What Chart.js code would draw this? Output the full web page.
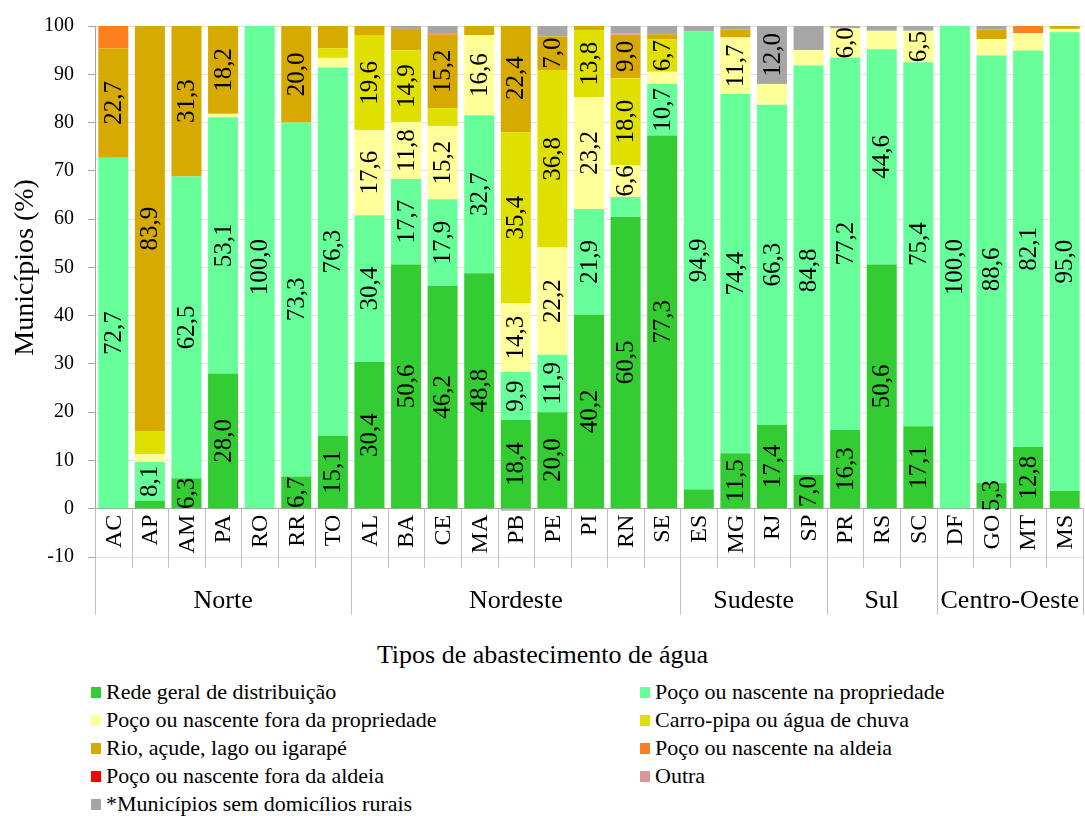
<!DOCTYPE html>
<html lang="pt">
<head>
<meta charset="utf-8">
<title>Tipos de abastecimento de água</title>
<script src="https://cdn.jsdelivr.net/npm/chart.js@4.4.1/dist/chart.umd.min.js"></script>
<style>
  body { margin: 0; background: #fff; font-family: 'Liberation Serif', 'Times New Roman', serif; }
  #wrap { position: relative; width: 1085px; height: 816px; }
  #chart { position: absolute; left: 0; top: 0; }
  #xTitle { position: absolute; left: 0; width: 1085px; top: 640px; text-align: center; font-size: 26px; color: #000; }
  #legend { position: absolute; left: 91px; top: 678px; display: grid; grid-template-columns: 549px 440px; grid-auto-rows: 28px; font-size: 22px; color: #000; }
  .item { display: flex; align-items: center; white-space: nowrap; }
  .box { display: inline-block; width: 10px; height: 11px; margin-right: 5px; }
</style>
</head>
<body>
<div id="wrap">
  <canvas id="chart" width="1085" height="632"></canvas>
  <div id="xTitle">Tipos de abastecimento de água</div>
  <div id="legend"></div>
</div>
<script>
document.addEventListener('DOMContentLoaded', function () {

    // estados (ordem do eixo) e regiões
    const states = ['AC', 'AP', 'AM', 'PA', 'RO', 'RR', 'TO',
        'AL', 'BA', 'CE', 'MA', 'PB', 'PE', 'PI', 'RN', 'SE',
        'ES', 'MG', 'RJ', 'SP',
        'PR', 'RS', 'SC',
        'DF', 'GO', 'MT', 'MS'];
    const regionNames = ['Norte', 'Nordeste', 'Sudeste', 'Sul', 'Centro-Oeste'];
    const regionSizes = [7, 9, 4, 3, 4];

    // percentuais de municípios por tipo
    const redeGeral = [0, 1.6, 6.3, 28.0, 0, 6.7, 15.1, 30.4, 50.6, 46.2, 48.8, 18.4, 20.0, 40.2, 60.5, 77.3, 4.0, 11.5, 17.4, 7.0, 16.3, 50.6, 17.1, 0, 5.3, 12.8, 3.7];
    const pocoPropriedade = [72.7, 8.1, 62.5, 53.1, 100.0, 73.3, 76.3, 30.4, 17.7, 17.9, 32.7, 9.9, 11.9, 21.9, 4.1, 10.7, 94.9, 74.4, 66.3, 84.8, 77.2, 44.6, 75.4, 100.0, 88.6, 82.1, 95.0];
    const pocoForaPropriedade = [0, 1.6, 0, 0.7, 0, 0, 2.0, 17.6, 11.8, 15.2, 16.6, 14.3, 22.2, 23.2, 6.6, 2.5, 0, 11.7, 4.3, 3.2, 6.0, 3.8, 6.5, 0, 3.4, 3.6, 0.7];
    const carroPipa = [0, 4.8, 0, 0, 0, 0, 2.0, 19.6, 14.9, 3.7, 0, 35.4, 36.8, 13.8, 18.0, 6.7, 0, 0, 0, 0, 0, 0, 0, 0, 0, 0, 0];
    const rioAcude = [22.7, 83.9, 31.3, 18.2, 0, 20.0, 4.6, 2.0, 4.4, 15.2, 1.9, 22.4, 7.0, 0.9, 9.0, 1.1, 0, 1.7, 0, 0, 0, 0, 0, 0, 2.0, 0, 0.6];
    const pocoNaAldeia = [4.6, 0, 0, 0, 0, 0, 0, 0, 0, 0.3, 0, 0, 0, 0, 0, 0, 0, 0, 0, 0, 0, 0, 0, 0, 0, 1.5, 0];
    const pocoForaAldeia = [0, 0, 0, 0, 0, 0, 0, 0, 0, 0, 0, 0, 0, 0, 0, 0, 0, 0, 0, 0, 0, 0, 0, 0, 0, 0, 0];
    const outra = [0, 0, 0, 0, 0, 0, 0, 0, 0, 0, 0, 0, 0, 0, 0.3, 0, 0, 0, 0, 0, 0, 0, 0, 0, 0, 0, 0];
    const semRurais = [0, 0, 0, 0, 0, 0, 0, 0, 0.6, 1.5, 0, -0.4, 2.1, 0, 1.5, 1.7, 1.1, 0.7, 12.0, 5.0, 0.5, 1.0, 1.0, 0, 0.7, 0, 0];

    const serif = "'Liberation Serif', 'Times New Roman', serif";
    const labelMin = 5.3; // valores menores ficam sem rótulo

    function ds(label, data, color) {
        return {
            label: label,
            data: data,
            backgroundColor: color,
            borderWidth: 0,
            categoryPercentage: 1.0,
            barPercentage: 0.82
        };
    }

    // rótulos de dados, eixo de categorias agrupado e título do eixo y
    const overlay = {
        id: 'overlay',
        afterDatasetsDraw(chart) {
            const ctx = chart.ctx;
            ctx.save();
            ctx.fillStyle = '#000';
            ctx.font = '25px ' + serif;
            ctx.textAlign = 'center';
            ctx.textBaseline = 'middle';
            chart.data.datasets.forEach((d, di) => {
                const meta = chart.getDatasetMeta(di);
                meta.data.forEach((bar, i) => {
                    const v = d.data[i];
                    if (v < labelMin) return;
                    const cy = (bar.y + bar.base) / 2;
                    ctx.save();
                    ctx.translate(bar.x + 1, cy);
                    ctx.rotate(-Math.PI / 2);
                    ctx.fillText(v.toFixed(1).replace('.', ','), 0, 0);
                    ctx.restore();
                });
            });
            ctx.restore();
        },
        afterDraw(chart) {
            const ctx = chart.ctx;
            const xs = chart.scales.x;
            const ys = chart.scales.y;
            const y0 = ys.getPixelForValue(0);
            const half = (xs.getPixelForValue(1) - xs.getPixelForValue(0)) / 2;

            ctx.save();
            ctx.strokeStyle = '#bfbfbf';
            ctx.lineWidth = 1;

            // limites entre estados e entre regiões
            const groupEdges = [0];
            regionSizes.reduce((acc, n) => { groupEdges.push(acc + n); return acc + n; }, 0);
            for (let i = 0; i <= states.length; i++) {
                const bx = Math.round(xs.getPixelForValue(i) - half) + 0.5;
                const isGroup = groupEdges.includes(i);
                ctx.beginPath();
                ctx.moveTo(bx, y0);
                ctx.lineTo(bx, y0 + (isGroup ? 106 : 59));
                ctx.stroke();
            }

            // siglas dos estados
            ctx.fillStyle = '#000';
            ctx.font = '24px ' + serif;
            ctx.textAlign = 'right';
            ctx.textBaseline = 'middle';
            states.forEach((s, i) => {
                ctx.save();
                ctx.translate(xs.getPixelForValue(i) + 1, y0 + 6);
                ctx.rotate(-Math.PI / 2);
                ctx.fillText(s, 0, 0);
                ctx.restore();
            });

            // nomes das regiões
            ctx.font = '26px ' + serif;
            ctx.textAlign = 'center';
            regionNames.forEach((r, g) => {
                const a = xs.getPixelForValue(groupEdges[g]) - half;
                const b = xs.getPixelForValue(groupEdges[g + 1]) - half;
                ctx.fillText(r, (a + b) / 2, y0 + 92);
            });

            // título do eixo y
            ctx.font = '28px ' + serif;
            ctx.save();
            ctx.translate(26, (ys.getPixelForValue(0) + ys.getPixelForValue(100)) / 2);
            ctx.rotate(-Math.PI / 2);
            ctx.fillText('Municípios (%)', 0, 0);
            ctx.restore();

            ctx.restore();
        }
    };

    const chart = new Chart(document.getElementById('chart'), {
        type: 'bar',
        data: {
            labels: states,
            datasets: [
                ds('Rede geral de distribuição', redeGeral, '#33cc33'),
                ds('Poço ou nascente na propriedade', pocoPropriedade, '#66ff99'),
                ds('Poço ou nascente fora da propriedade', pocoForaPropriedade, '#ffff99'),
                ds('Carro-pipa ou água de chuva', carroPipa, '#e0e000'),
                ds('Rio, açude, lago ou igarapé', rioAcude, '#d6aa00'),
                ds('Poço ou nascente na aldeia', pocoNaAldeia, '#ff7f1f'),
                ds('Poço ou nascente fora da aldeia', pocoForaAldeia, '#ff0000'),
                ds('Outra', outra, '#d99694'),
                ds('*Municípios sem domicílios rurais', semRurais, '#a6a6a6')
            ]
        },
        options: {
            responsive: false,
            animation: false,
            layout: { padding: { top: 21, bottom: 75, left: 0, right: 2 } },
            plugins: {
                legend: { display: false },
                tooltip: { enabled: false }
            },
            scales: {
                x: {
                    stacked: true,
                    display: false
                },
                y: {
                    stacked: true,
                    min: -10,
                    max: 100,
                    afterFit: (scale) => { scale.width = 95; },
                    ticks: {
                        stepSize: 10,
                        padding: 14,
                        color: '#000',
                        font: { family: serif, size: 20 }
                    },
                    grid: {
                        color: (c) => (c.tick && c.tick.value === 0 ? '#a6a6a6' : '#e3e3e3'),
                        tickColor: '#a6a6a6',
                        tickLength: 7
                    },
                    border: { color: '#a6a6a6' }
                }
            }
        },
        plugins: [overlay]
    });

    // legenda em duas colunas, a partir dos datasets
    const legendEl = document.getElementById('legend');
    chart.data.datasets.forEach(d => {
        const item = document.createElement('div');
        item.className = 'item';
        const box = document.createElement('span');
        box.className = 'box';
        box.style.background = d.backgroundColor;
        item.appendChild(box);
        item.appendChild(document.createTextNode(d.label));
        legendEl.appendChild(item);
    });

});
</script>
</body>
</html>
